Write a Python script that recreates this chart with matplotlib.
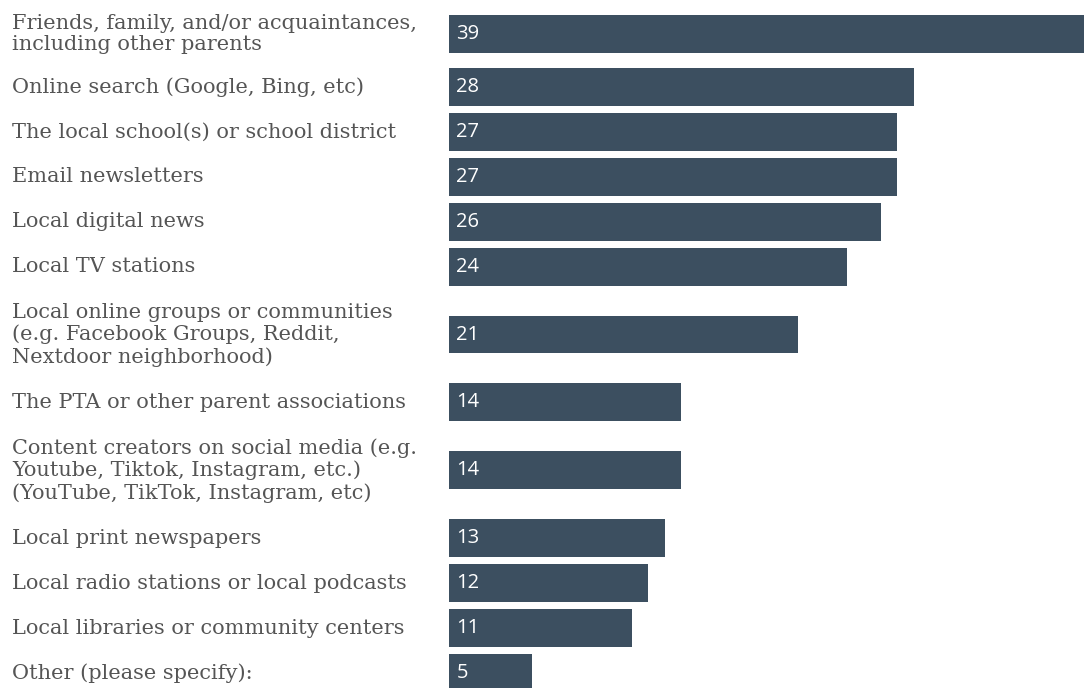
import matplotlib
matplotlib.use("Agg")
import matplotlib.pyplot as plt
import matplotlib.transforms as mtransforms

# survey answers, top to bottom
sources = [
    "Friends, family, and/or acquaintances,\nincluding other parents",
    "Online search (Google, Bing, etc)",
    "The local school(s) or school district",
    "Email newsletters",
    "Local digital news",
    "Local TV stations",
    "Local online groups or communities\n(e.g. Facebook Groups, Reddit,\nNextdoor neighborhood)",
    "The PTA or other parent associations",
    "Content creators on social media (e.g.\nYoutube, Tiktok, Instagram, etc.)\n(YouTube, TikTok, Instagram, etc)",
    "Local print newspapers",
    "Local radio stations or local podcasts",
    "Local libraries or community centers",
    "Other (please specify):",
]
shares = [39, 28, 27, 27, 26, 24, 21, 14, 14, 13, 12, 11, 5]

barColor = "#3c4f60"
labelColor = "#555555"

# rows grow with the number of label lines
extraPad = {1: 0.0, 2: 8 / 45, 3: 23 / 45}
lineCounts = [s.count("\n") + 1 for s in sources]
positions = [0.0]
for i in range(1, len(sources)):
    positions.append(positions[-1] + 1 + extraPad[lineCounts[i - 1]] + extraPad[lineCounts[i]])

fig = plt.figure(figsize=(10.84, 6.88), dpi=100)
ax = fig.add_axes([449 / 1084, 0, 1 - 449 / 1084, 1])

ax.barh(positions, shares, height=38 / 45, color=barColor, left=0)
ax.set_xlim(0, 635 / 16.6)
ax.set_ylim(positions[-1] + (688 - 673) / 45, -34 / 45)
ax.axis("off")

labelTrans = mtransforms.blended_transform_factory(fig.transFigure, ax.transData)
for pos, name, val in zip(positions, sources, shares):
    ax.text(12 / 1084, pos, name, transform=labelTrans, ha="left", va="center",
            fontsize=15, family="DejaVu Serif", color=labelColor, linespacing=1.18)
    ax.text(0.45, pos, str(val), ha="left", va="center", fontsize=14.5,
            family="Open Sans", color="white")

fig.savefig("out.png", dpi=100)
